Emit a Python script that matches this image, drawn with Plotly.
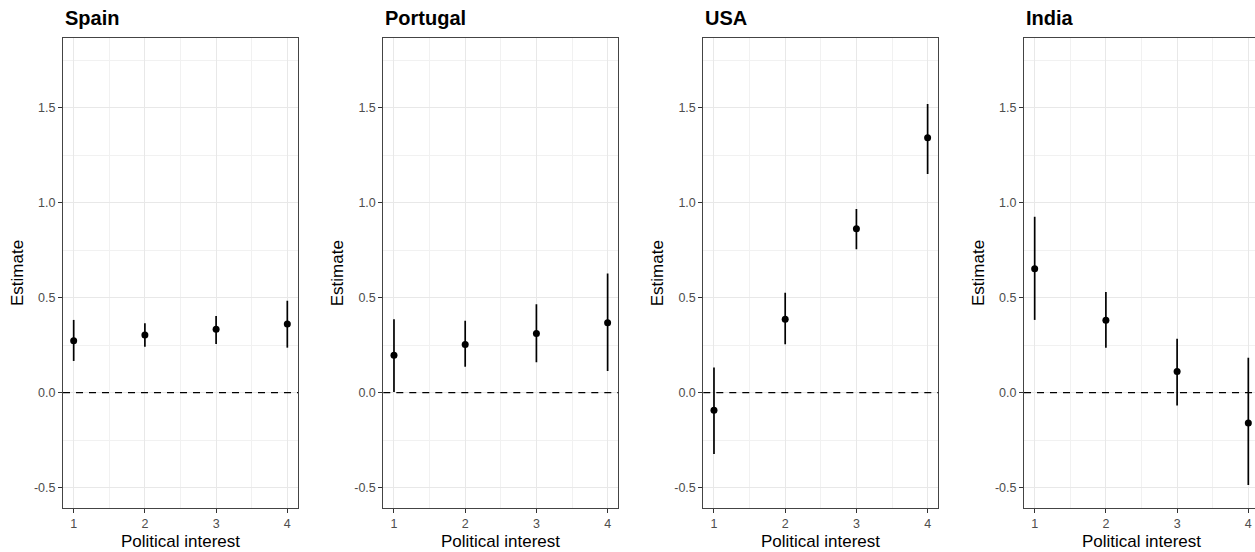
import plotly.graph_objects as go

countries = ["Spain", "Portugal", "USA", "India"]
levels = [1, 2, 3, 4]

est = {
    "Spain":    [0.274, 0.304, 0.334, 0.362],
    "Portugal": [0.197, 0.253, 0.311, 0.368],
    "USA":      [-0.093, 0.386, 0.863, 1.342],
    "India":    [0.653, 0.381, 0.111, -0.160],
}
upper = {
    "Spain":    [0.383, 0.365, 0.404, 0.484],
    "Portugal": [0.386, 0.379, 0.465, 0.628],
    "USA":      [0.132, 0.526, 0.967, 1.519],
    "India":    [0.926, 0.530, 0.284, 0.184],
}
lower = {
    "Spain":    [0.167, 0.242, 0.256, 0.237],
    "Portugal": [0.003, 0.137, 0.160, 0.114],
    "USA":      [-0.323, 0.255, 0.755, 1.151],
    "India":    [0.383, 0.237, -0.068, -0.486],
}

y_ticks = [-0.5, 0.0, 0.5, 1.0, 1.5]
y_ticktext = ["-0.5", "0.0", "0.5", "1.0", "1.5"]
y_minor = [-0.25, 0.25, 0.75, 1.25, 1.75]
x_ticks = [1, 2, 3, 4]
x_minor = [1.5, 2.5, 3.5]

W, H = 1255, 552
panel_left = [63, 383.3, 703.3, 1024]
panel_w = 235
top_px, bot_px = 38, 508
x_range_full = [0.85, 4.15]
y_range = [-0.607, 1.867]

FONT = "Liberation Sans, Arial, Helvetica, sans-serif"
fig = go.Figure()
layout = dict(
    template="none",
    width=W, height=H, margin=dict(l=0, r=0, t=0, b=0),
    paper_bgcolor="white", plot_bgcolor="white", showlegend=False,
    font=dict(family=FONT, color="black"),
)
annotations = []
shapes = []
ydom = [(H - bot_px) / H, (H - top_px) / H]

for i, c in enumerate(countries):
    n = i + 1
    xa = "x" if n == 1 else f"x{n}"
    ya = "y" if n == 1 else f"y{n}"
    left = panel_left[i]
    right = min(left + panel_w, W)
    xr = list(x_range_full)
    if left + panel_w > W:
        xr[1] = x_range_full[0] + (right - left) / panel_w * (x_range_full[1] - x_range_full[0])
    e = est[c]
    shapes.append(dict(type="line", xref=f"{xa} domain", yref=ya,
                       x0=0, x1=1, y0=0, y1=0, layer="above",
                       line=dict(color="black", width=1.3, dash="7px,6px")))
    fig.add_trace(go.Scatter(
        x=levels, y=e, mode="markers", xaxis=xa, yaxis=ya,
        marker=dict(color="black", size=7, line=dict(width=0)),
        error_y=dict(type="data", symmetric=False,
                     array=[u - v for u, v in zip(upper[c], e)],
                     arrayminus=[v - l for v, l in zip(e, lower[c])],
                     color="black", thickness=1.7, width=0),
    ))
    common = dict(showline=True, linecolor="#444444", linewidth=1,
                  ticks="outside", ticklen=4, tickwidth=1, tickcolor="#333333",
                  tickfont=dict(size=12.5, color="#4D4D4D", family=FONT),
                  showgrid=True, gridcolor="#E8E8E8", gridwidth=1, zeroline=False,
                  fixedrange=True)
    layout["xaxis" if n == 1 else f"xaxis{n}"] = dict(
        common, domain=[left / W, right / W], range=xr, anchor=ya,
        tickmode="array", tickvals=x_ticks, ticktext=[str(v) for v in x_ticks],
        mirror=True,
        minor=dict(tickmode="array", tickvals=x_minor, showgrid=True,
                   gridcolor="#F1F1F1", gridwidth=1, ticks=""),
    )
    layout["yaxis" if n == 1 else f"yaxis{n}"] = dict(
        common, domain=ydom, range=y_range, anchor=xa,
        tickmode="array", tickvals=y_ticks, ticktext=y_ticktext,
        mirror=(left + panel_w <= W),
        minor=dict(tickmode="array", tickvals=y_minor, showgrid=True,
                   gridcolor="#F1F1F1", gridwidth=1, ticks=""),
    )
    annotations.append(dict(text=f"<b>{c}</b>", x=left / W, y=(H - 18) / H,
                            xref="paper", yref="paper", xanchor="left", yanchor="middle",
                            showarrow=False, font=dict(size=20, color="black", family=FONT)))
    annotations.append(dict(text="Political interest", x=(left + panel_w / 2) / W,
                            y=(H - 541) / H, xref="paper", yref="paper",
                            xanchor="center", yanchor="middle", showarrow=False,
                            font=dict(size=17, color="black", family=FONT)))
    annotations.append(dict(text="Estimate", x=(left - 46) / W, y=(H - 273) / H,
                            xref="paper", yref="paper", xanchor="center", yanchor="middle",
                            textangle=-90, showarrow=False,
                            font=dict(size=17, color="black", family=FONT)))

layout["annotations"] = annotations
layout["shapes"] = shapes
fig.update_layout(**layout)
fig.write_html("out.html")
